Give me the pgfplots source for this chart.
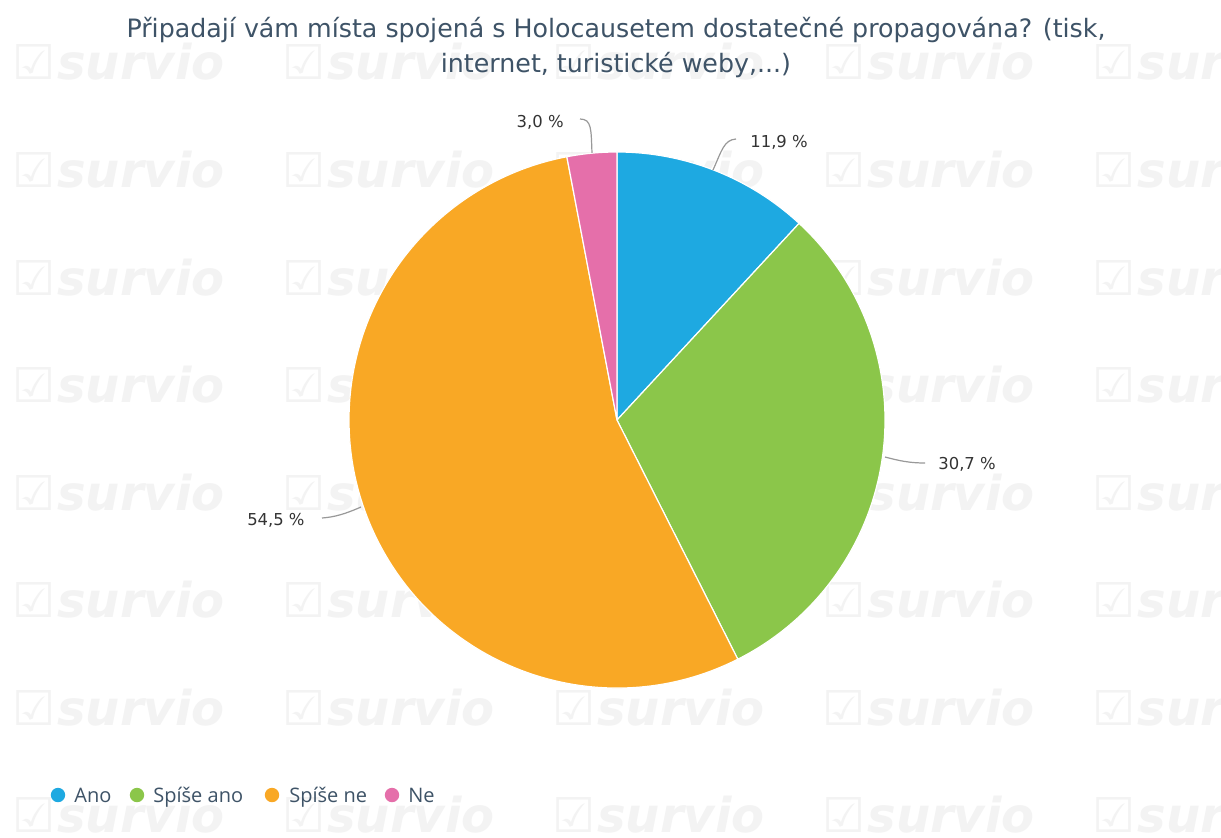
\documentclass[border=0pt]{standalone}
\usepackage{pgfplots}
\pgfplotsset{compat=1.18}
\usepackage{pgfplotstable}
\usepackage{fontspec}
\setmainfont{DejaVu Sans}
\newfontfamily\legfont{Open Sans}
\definecolor{cAno}{HTML}{1EA9E1}
\definecolor{cSpiseAno}{HTML}{8BC64A}
\definecolor{cSpiseNe}{HTML}{F9A825}
\definecolor{cNe}{HTML}{E56FAA}
\definecolor{titlecol}{HTML}{3E5367}
\definecolor{labcol}{HTML}{333333}
\definecolor{wm}{HTML}{F3F3F3}

\pgfplotstableread{
label value color
Ano 11.9 cAno
SpiseAno 30.7 cSpiseAno
SpiseNe 54.5 cSpiseNe
Ne 3.0 cNe
}\piedata

\begin{document}
\begin{tikzpicture}
\begin{axis}[x=0.5pt,y=0.5pt,xmin=0,xmax=1221,ymin=-837,ymax=0,
  hide axis, clip=false]
\pgfplotsextra{
  % background
  \fill[white] (axis cs:0,-837) rectangle (axis cs:1221,0);
  % watermark
  \foreach \wx in {12,282,552,822,1092}{
    \foreach \wy in {62,170,278,385,493,600,708,815}{
      \node[overlay,anchor=west,inner sep=0,text=wm]
        at (axis cs:\wx,-\wy) {\fontsize{24}{24}\selectfont ☑\hspace{1pt}\bfseries\itshape survio};
    }
  }
  % pie slices
  \xdef\cum{0}
  \pgfmathsetmacro\total{100.1}
  \foreach \i in {0,...,3}{
    \pgfplotstablegetelem{\i}{value}\of\piedata \let\val\pgfplotsretval
    \pgfplotstablegetelem{\i}{color}\of\piedata \let\col\pgfplotsretval
    \pgfmathsetmacro\a{90-360*(\cum/\total)}
    \pgfmathsetmacro\b{90-360*((\cum+\val)/\total)}
    \fill[\col, draw=white, line width=0.6pt, line join=round]
      (axis cs:617,-420) -- ++(\a:134pt) arc[start angle=\a, end angle=\b, radius=134pt] -- cycle;
    \pgfmathsetmacro\newcum{\cum+\val}
    \global\let\cum\newcum
  }
  % connectors
  \draw[gray!80, line width=0.6pt] (axis cs:713,-170) .. controls (axis cs:722,-150) and (axis cs:724,-140) .. (axis cs:736,-139);
  \draw[gray!80, line width=0.6pt] (axis cs:592,-153) .. controls (axis cs:591,-130) and (axis cs:592,-119) .. (axis cs:580,-119);
  \draw[gray!80, line width=0.6pt] (axis cs:885,-457) .. controls (axis cs:900,-461) and (axis cs:910,-463) .. (axis cs:925,-463);
  \draw[gray!80, line width=0.6pt] (axis cs:361,-507) .. controls (axis cs:345,-514) and (axis cs:335,-517) .. (axis cs:322,-518);
  % labels
  \begin{scope}[every node/.style={inner sep=0, text=labcol, font=\fontsize{8.2}{9}\selectfont}]
    \node[anchor=west] at (axis cs:750,-142) {11,9 \%};
    \node[anchor=east] at (axis cs:564,-122) {3,0 \%};
    \node[anchor=west] at (axis cs:938,-464) {30,7 \%};
    \node[anchor=east] at (axis cs:305,-520) {54,5 \%};
  \end{scope}
  % title
  \node[align=center, text=titlecol, font=\fontsize{12.65}{17.5}\selectfont, inner sep=0]
    at (axis cs:616,-48) {Připadají vám místa spojená s Holocausetem dostatečné propagována? (tisk,\\internet, turistické weby,...)};
  % legend
  \begin{scope}[every node/.style={inner sep=0, anchor=base west, text=titlecol, font=\legfont\fontsize{10}{11}\selectfont}]
    \fill[cAno] (axis cs:58,-795) circle[radius=3.6pt];
    \node at (axis cs:74,-802) {Ano};
    \fill[cSpiseAno] (axis cs:137,-795) circle[radius=3.6pt];
    \node at (axis cs:153,-802) {Spíše ano};
    \fill[cSpiseNe] (axis cs:272,-795) circle[radius=3.6pt];
    \node at (axis cs:289,-802) {Spíše ne};
    \fill[cNe] (axis cs:392,-795) circle[radius=3.6pt];
    \node at (axis cs:408,-802) {Ne};
  \end{scope}
}
\end{axis}
\end{tikzpicture}
\end{document}
